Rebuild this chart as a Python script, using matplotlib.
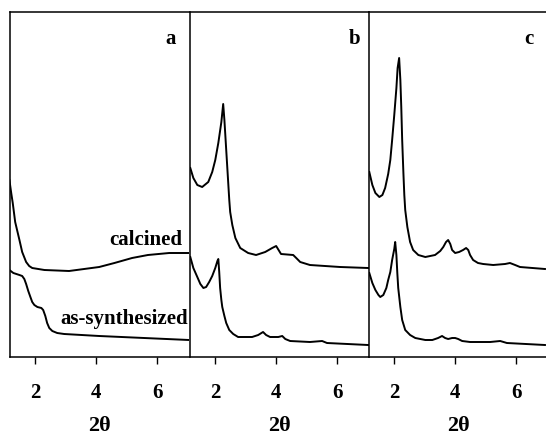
import matplotlib.pyplot as plt

plt.rcParams['font.family'] = ['Liberation Serif', 'DejaVu Serif']
plt.rcParams['font.weight'] = 'bold'

# panel a
a_calc_x = [1.15, 1.21, 1.26, 1.34, 1.48, 1.57, 1.70, 1.80, 1.90, 2.30, 3.11, 4.10,
            4.60, 5.18, 5.70, 6.40, 7.05]
a_calc_y = [177, 164, 154, 135, 117, 105, 95, 91, 89, 87, 86, 90,
            94, 99, 102, 104, 104]
a_syn_x = [1.15, 1.28, 1.48, 1.57, 1.64, 1.70, 1.77, 1.84, 1.90, 1.97, 2.07, 2.20, 2.26,
           2.33, 2.39, 2.46, 2.56, 2.72, 2.95, 4.10, 7.05]
a_syn_y = [87, 84, 82, 81, 78, 73, 66, 60, 55, 52, 50, 49, 47,
           41, 34, 29, 26, 24, 23, 21, 17]

# panel b
b_calc_x = [1.18, 1.28, 1.41, 1.57, 1.77, 1.90, 2.00, 2.10, 2.20, 2.26, 2.30, 2.33, 2.36,
            2.39, 2.43, 2.46, 2.49, 2.56, 2.66, 2.82, 3.08, 3.34, 3.64, 3.87, 4.00, 4.10,
            4.16, 4.56, 4.66, 4.79, 5.11, 6.10, 7.02]
b_calc_y = [189, 179, 172, 170, 175, 185, 197, 214, 235, 253, 237, 222, 207,
            192, 172, 157, 145, 132, 119, 109, 104, 102, 105, 109, 111, 106,
            103, 102, 99, 95, 92, 90, 89]
b_syn_x = [1.18, 1.28, 1.41, 1.51, 1.61, 1.70, 1.80, 1.90, 2.00, 2.07, 2.10, 2.13, 2.16,
           2.20, 2.23, 2.30, 2.36, 2.46, 2.59, 2.75, 3.21, 3.41, 3.57, 3.67, 3.80, 4.07,
           4.20, 4.30, 4.46, 5.11, 5.51, 5.67, 7.02]
b_syn_y = [100, 89, 80, 73, 69, 70, 75, 81, 89, 96, 98, 85, 69,
           57, 50, 41, 34, 27, 23, 20, 20, 22, 25, 22, 20, 20,
           21, 18, 16, 15, 16, 14, 12]

# panel c
c_calc_x = [1.18, 1.28, 1.38, 1.51, 1.61, 1.70, 1.80, 1.87, 1.93, 2.00, 2.07, 2.11, 2.16,
            2.20, 2.23, 2.26, 2.30, 2.33, 2.36, 2.43, 2.52, 2.62, 2.79, 3.02, 3.34, 3.51,
            3.61, 3.70, 3.77, 3.84, 3.90, 4.00, 4.13, 4.26, 4.36, 4.43, 4.49, 4.59, 4.75,
            4.92, 5.25, 5.64, 5.80, 5.97, 6.13, 6.95]
c_calc_y = [185, 172, 164, 160, 162, 169, 183, 197, 217, 242, 269, 289, 299,
            277, 250, 217, 184, 162, 147, 130, 115, 107, 102, 100, 102, 106,
            110, 115, 117, 113, 107, 104, 105, 107, 109, 107, 102, 97, 94,
            93, 92, 93, 94, 92, 90, 88]
c_syn_x = [1.18, 1.28, 1.38, 1.48, 1.54, 1.64, 1.74, 1.80, 1.87, 1.93, 2.00, 2.03, 2.07,
           2.10, 2.13, 2.20, 2.26, 2.36, 2.52, 2.69, 3.02, 3.25, 3.44, 3.57, 3.67, 3.77,
           3.90, 4.00, 4.10, 4.23, 4.49, 5.15, 5.48, 5.70, 6.95]
c_syn_y = [84, 74, 67, 62, 60, 62, 69, 77, 85, 97, 108, 115, 102,
           84, 69, 50, 37, 27, 22, 19, 17, 17, 19, 21, 19, 18,
           19, 19, 18, 16, 15, 15, 16, 14, 12]

panels = [
    ('a', a_calc_x, a_calc_y, a_syn_x, a_syn_y, 0.928),
    ('b', b_calc_x, b_calc_y, b_syn_x, b_syn_y, 0.95),
    ('c', c_calc_x, c_calc_y, c_syn_x, c_syn_y, 0.92),
]

W, H = 546, 436
fig = plt.figure(figsize=(W / 100, H / 100), dpi=100)

lefts = [10, 190, 369]
for i, (lab, cx, cy, sx, sy, lx) in enumerate(panels):
    ax = fig.add_axes([lefts[i] / W, 1 - 357 / H, 179 / W, 345 / H])
    ax.plot(cx, cy, color='black', lw=1.4, solid_joinstyle='round')
    ax.plot(sx, sy, color='black', lw=1.4, solid_joinstyle='round')
    ax.set_xlim(1.17, 7.05)
    ax.set_ylim(0, 345)
    ax.set_yticks([])
    ax.set_xticks([2, 4, 6])
    ax.tick_params(axis='x', direction='out', length=5, width=1, pad=14, labelsize=15)
    for sp in ax.spines.values():
        sp.set_linewidth(1.1)
    if i < 2:
        ax.spines['right'].set_visible(False)
    ax.set_xlabel('2θ', fontsize=16, fontweight='bold', labelpad=9)
    ax.text(lx, 0.907, lab, transform=ax.transAxes, ha='right', va='baseline',
            fontsize=15, fontweight='bold')
    if lab == 'a':
        ax.text(6.82, 112, 'calcined', ha='right', va='baseline', fontsize=15, fontweight='bold')
        ax.text(7.02, 33, 'as-synthesized', ha='right', va='baseline', fontsize=15, fontweight='bold')

fig.savefig('out.png', dpi=100)
